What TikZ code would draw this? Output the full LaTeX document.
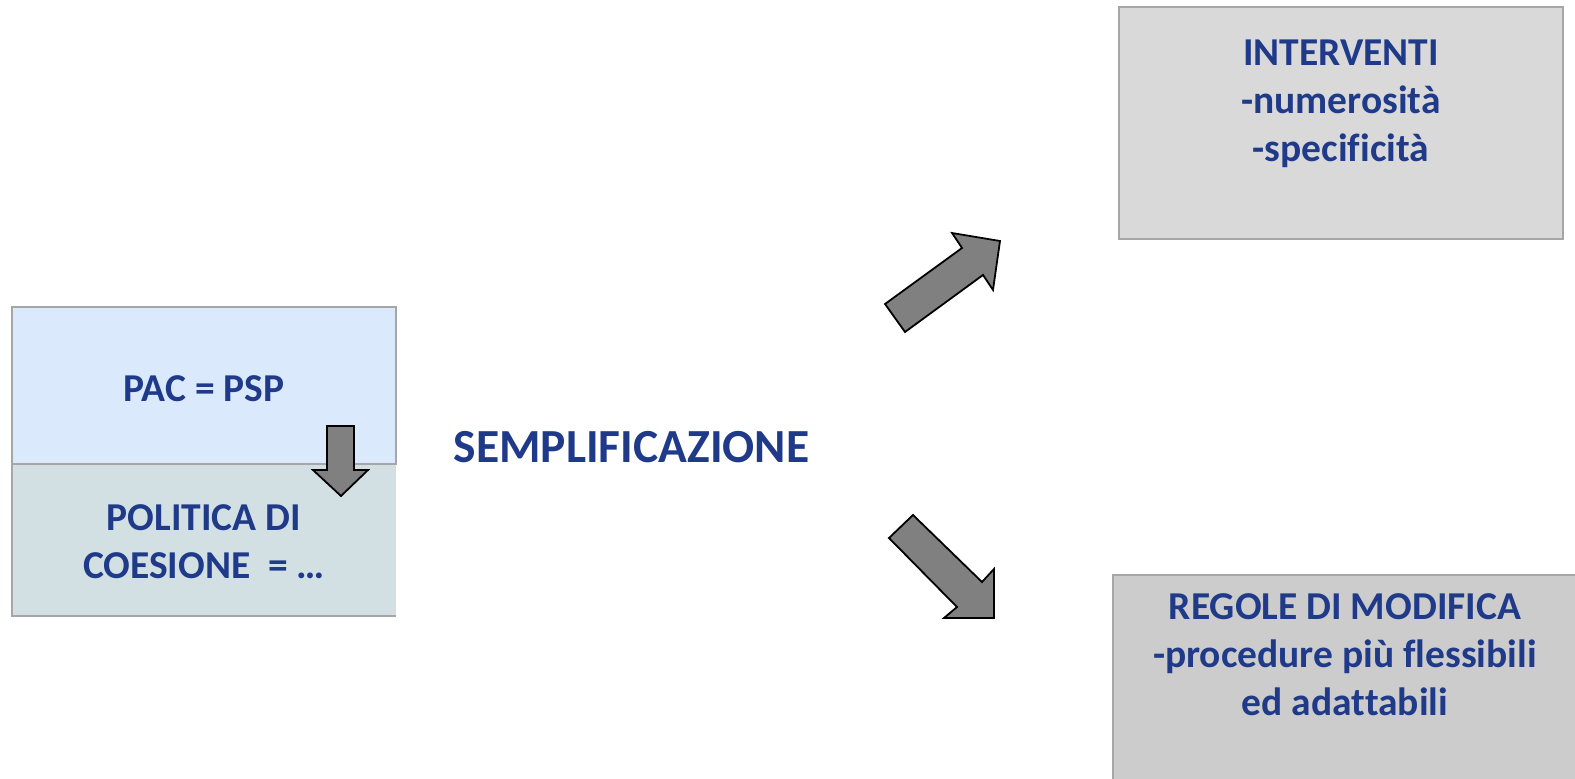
\documentclass[tikz,border=0pt]{standalone}
\usepackage{fontspec}
\setmainfont{Carlito}[Ligatures={NoCommon}]
\definecolor{txtblue}{RGB}{32,58,138}
\definecolor{bordergray}{RGB}{166,166,166}
\definecolor{lightblue}{RGB}{219,233,252}
\definecolor{greyblue}{RGB}{210,224,228}
\definecolor{boxgrayA}{RGB}{217,217,217}
\definecolor{boxgrayB}{RGB}{204,204,204}
\definecolor{arrowgray}{RGB}{128,128,128}
\begin{document}
\begin{tikzpicture}[x=1pt,y=-1pt,
  panel/.style={draw=none,inner sep=0pt,outer sep=0pt},
  edge/.style={draw=bordergray,line width=2pt},
  boxtext/.style={text=txtblue,font=\bfseries\fontsize{39.5}{48}\selectfont,align=center,inner sep=0pt,anchor=north},
  bigtext/.style={text=txtblue,font=\bfseries\fontsize{47.5}{57}\selectfont,inner sep=0pt,anchor=base},
  blockarrow/.style={fill=arrowgray,draw=black,line width=1.8pt,line join=miter}]
\useasboundingbox (0,0) rectangle (1575,779);
\fill[white] (0,0) rectangle (1575,779);

% left stacked boxes
\node[panel,fill=lightblue,minimum width=384pt,minimum height=157pt] (pac) at (204,385.5) {};
\node[panel,fill=greyblue,minimum width=384pt,minimum height=152pt] (coes) at (204,540) {};
\draw[edge] (pac.south west) rectangle (pac.north east);
\draw[edge] (coes.north west) -- (coes.south west) -- (coes.south east);

\node[boxtext] (pactxt) at (204,375) {PAC = PSP};
\node[boxtext] (coestxt) at (204,504) {POLITICA DI\\COESIONE ~= …};

% small down arrow
\draw[blockarrow] (327,426) -- (354,426) -- (354,470) -- (368,470) -- (341,496) -- (313,470) -- (327,470) -- cycle;

% central label
\node[bigtext] (semp) at (631.5,462) {SEMPLIFICAZIONE};

% right boxes
\node[panel,fill=boxgrayA,minimum width=444pt,minimum height=232pt] (interv) at (1341,123) {};
\draw[edge] (interv.south west) rectangle (interv.north east);
\node[boxtext] (intervtxt) at (1341,40) {INTERVENTI\\-numerosità\\-specificità};

\node[panel,fill=boxgrayB,minimum width=480pt,minimum height=220pt] (regole) at (1353,685) {};
\draw[edge] (regole.south west) -- (regole.north west) -- (regole.north east);
\node[boxtext] (regoletxt) at (1345,593) {REGOLE DI MODIFICA\\-procedure più flessibili\\ed adattabili};

% block arrows
\draw[blockarrow] (885,304) -- (905,332) -- (983,275) -- (993,290) -- (1000,241) -- (952,233) -- (962,248) -- cycle;
\draw[blockarrow] (913,515) -- (889,538) -- (957,607) -- (944,618) -- (994,618) -- (994,569) -- (982,582) -- cycle;
\end{tikzpicture}
\end{document}
